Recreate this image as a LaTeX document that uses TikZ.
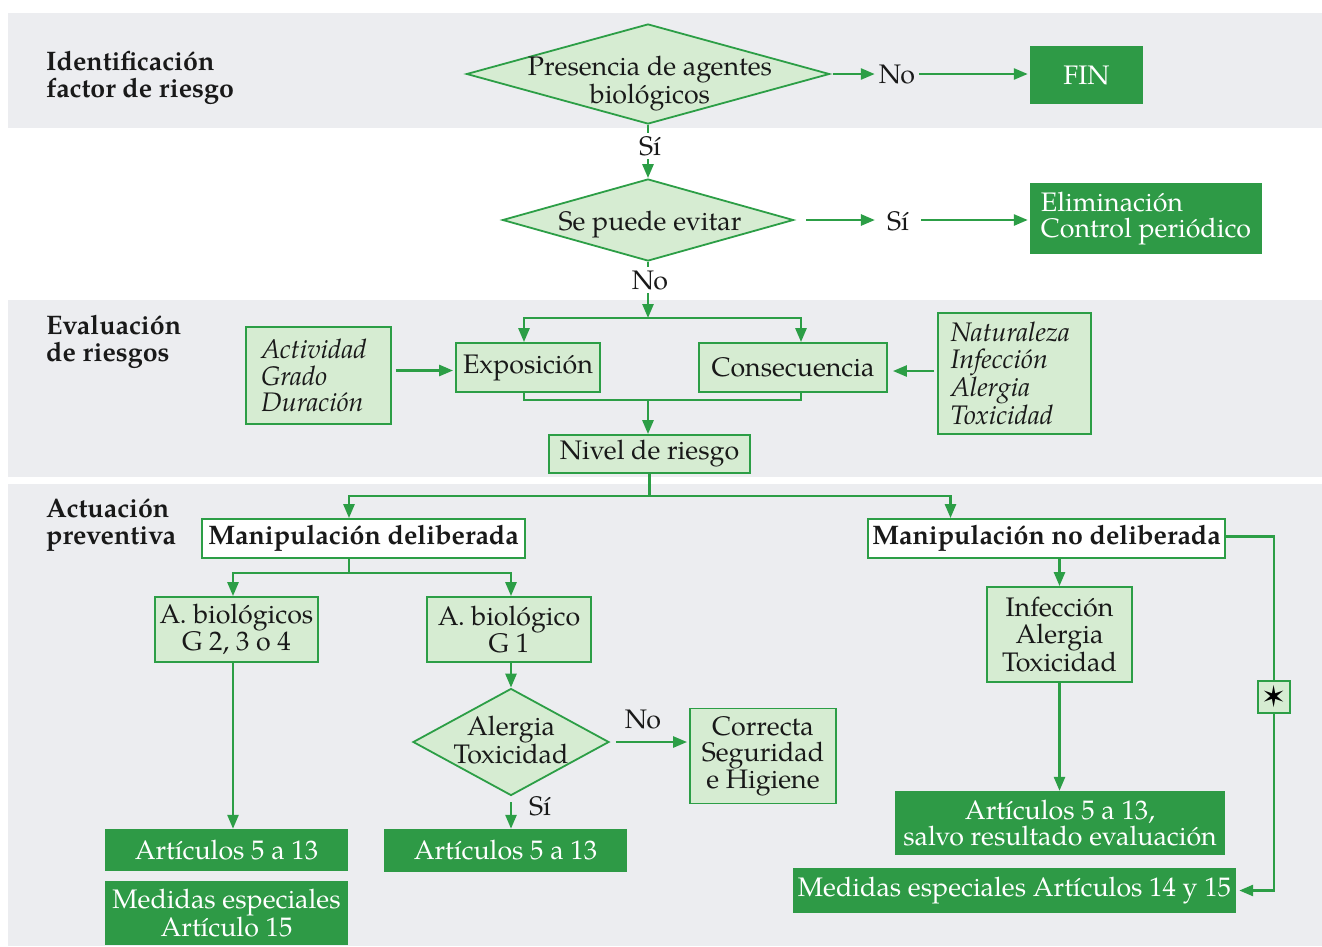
\documentclass[tikz,border=0pt]{standalone}
\usepackage{fontspec}
\setmainfont{texgyrepagella}[Extension=.otf,UprightFont=*-regular,BoldFont=*-bold,ItalicFont=*-italic,BoldItalicFont=*-bolditalic]
\newfontfamily\symfont{DejaVu Sans}
\usetikzlibrary{arrows.meta,shapes.geometric}
\definecolor{gline}{RGB}{44,158,70}
\definecolor{gdark}{RGB}{46,154,70}
\definecolor{glight}{RGB}{214,236,210}
\definecolor{band}{RGB}{236,237,240}
\definecolor{tblack}{RGB}{25,25,25}
\newcommand{\fsz}{\fontsize{26.8}{26.5}\selectfont}
\begin{document}
\begin{tikzpicture}[x=1pt,y=-1pt,
  every node/.style={font=\fsz, inner sep=0pt, text=tblack},
  lbox/.style={draw=gline, line width=1.8pt, fill=glight, align=center},
  dbox/.style={fill=gdark, text=white, align=center},
  wbox/.style={draw=gline, line width=1.8pt, fill=white, font=\fsz\bfseries},
  dia/.style={diamond, aspect=1, draw=gline, line width=1.8pt, fill=glight},
  txt/.style={align=center},
  conn/.style={draw=gline, line width=2.6pt},
  arr/.style={conn, -{Triangle[length=14pt,width=11pt]}},
  head/.style={font=\fsz\bfseries, align=left, anchor=west},
  lab/.style={inner sep=4pt}
]
\useasboundingbox (0,0) rectangle (1322,946);
\fill[white] (0,0) rectangle (1322,946);
\fill[band] (8,13) rectangle (1322,128);
\fill[band] (8,300) rectangle (1322,477);
\fill[band] (8,484) rectangle (1322,946);

% headers
\node[head] (h1) at (46,77.7) {Identificación\\factor de riesgo};
\node[head] (h2) at (46,342) {Evaluación\\de riesgos};
\node[head] (h3) at (46,525) {Actuación\\preventiva};

% diamonds
\node[dia, minimum width=363pt, minimum height=100pt] (d1) at (648,74) {};
\node[txt] (d1t) at (650,84) {Presencia de agentes\\biológicos};
\node[dia, minimum width=291pt, minimum height=82pt] (d2) at (648,220) {};
\node[anchor=base] (d2t) at (650,230) {Se puede evitar};
\node[dia, minimum width=196pt, minimum height=107pt] (d3) at (511,742) {};
\node[txt] (d3t) at (511,740) {Alergia\\Toxicidad};

% boxes
\node[dbox, minimum width=113pt, minimum height=58pt] (fin) at (1086.5,75) {FIN};
\node[dbox, minimum width=232pt, minimum height=71pt, align=left] (elim) at (1146,218.5) {Eliminación\\Control periódico};
\node[lbox, minimum width=145pt, minimum height=97pt, text width=115pt, align=left, font=\fsz\itshape] (act) at (318.5,375.5) {Actividad\\Grado\\Duración};
\node[lbox, minimum width=153pt, minimum height=121pt, text width=128pt, align=left, font=\fsz\itshape] (nat) at (1014.5,373.5) {Naturaleza\\Infección\\Alergia\\Toxicidad};
\node[lbox, minimum width=144pt, minimum height=49pt] (expo) at (528,367.5) {Exposición};
\node[lbox, minimum width=188pt, minimum height=49pt] (cons) at (793,367.5) {Consecuencia};
\node[lbox, minimum width=201pt, minimum height=38pt] (niv) at (649.5,454) {Nivel de riesgo};
\node[wbox, minimum width=323pt, minimum height=39pt] (md) at (363.5,538.5) {Manipulación deliberada};
\node[wbox, minimum width=357pt, minimum height=39pt] (mnd) at (1046.5,538.5) {Manipulación no deliberada};
\node[lbox, minimum width=163pt, minimum height=65pt] (ab1) at (236.5,629.5) {A. biológicos\\G 2, 3 o 4};
\node[lbox, minimum width=164pt, minimum height=65pt] (ab2) at (509,629.5) {A. biológico\\G 1};
\node[dbox, minimum width=243pt, minimum height=42pt] (art1) at (226.5,850) {Artículos 5 a 13};
\node[dbox, minimum width=243pt, minimum height=64pt] (med1) at (226.5,913) {Medidas especiales\\Artículo 15};
\node[dbox, minimum width=243pt, minimum height=43pt] (art2) at (505.5,850.5) {Artículos 5 a 13};
\node[lbox, minimum width=146pt, minimum height=95pt] (cor) at (763,756) {Correcta\\Seguridad\\e Higiene};
\node[lbox, minimum width=145pt, minimum height=95pt] (inf) at (1059.5,634.5) {Infección\\Alergia\\Toxicidad};
\node[dbox, minimum width=330pt, minimum height=64pt] (art3) at (1060,823) {Artículos 5 a 13,\\salvo resultado evaluación};
\node[dbox, minimum width=443pt, minimum height=45pt] (med2) at (1014.5,890.5) {Medidas especiales Artículos 14 y 15};

% labels on the right arrows
\node[lab] (no1) at (897,74) {No};
\node[lab, inner xsep=12pt] (si1) at (898,221) {Sí};

% connectors
\draw[arr, shorten <=3pt] (d1.east) -- (d1.east -| no1.west);
\draw[arr, shorten >=2pt] (d1.east -| no1.east) -- (d1.east -| fin.west);
\draw[arr, shorten <=12pt] (d2.east) -- (d2.east -| si1.west);
\draw[arr, shorten >=2pt] (d2.east -| si1.east) -- (d2.east -| elim.west);

\draw[arr] (d1.south) -- (d2.north);
\node[lab, fill=white, anchor=base, inner ysep=3pt] (si0) at (650,155) {Sí};

\coordinate (j1) at (648,318);
\draw[arr] (d2.south) -- (j1);
\node[lab, fill=white, anchor=base, inner ysep=3pt] (no0) at (650,289) {No};
\draw[arr] (j1) -| ([xshift=-4pt]expo.north);
\draw[arr] (j1) -| ([xshift=8pt]cons.north);

\coordinate (j2) at (648,400);
\draw[conn] ([xshift=-4pt]expo.south) |- (j2) -| ([xshift=8pt]cons.south);
\draw[arr] (j2) -- (j2 |- niv.north);

\draw[arr, shorten <=4pt, shorten >=2pt] ([yshift=5pt]act.east) -- ([yshift=5pt]act.east -| expo.west);
\draw[arr, shorten <=3pt, shorten >=5pt] ([yshift=2.5pt]nat.west) -- ([yshift=2.5pt]nat.west -| cons.east);

\coordinate (j3) at (649.5,496);
\draw[conn] (niv.south) -- (j3);
\draw[arr] (j3) -| ([xshift=-14.5pt]md.north);
\draw[arr] (j3) -| ([xshift=-96pt]mnd.north);

\coordinate (j4) at (349,573);
\draw[conn] ([xshift=-14.5pt]md.south) -- (j4);
\draw[arr] (j4) -| ([xshift=-3.5pt]ab1.north);
\draw[arr] (j4) -| ([xshift=2pt]ab2.north);

\draw[arr] ([xshift=-3.5pt]ab1.south) -- ([xshift=-3.5pt]ab1.south |- art1.north);
\draw[arr] (d3.north |- ab2.south) -- (d3.north);

\draw[arr, shorten <=6pt] (d3.south) -- (d3.south |- art2.north);
\node[anchor=base] (si2) at (540,815) {Sí};
\draw[arr, shorten <=6pt, shorten >=2pt] (d3.east) -- (d3.east -| cor.west);
\node[anchor=base] (no2) at (643,728) {No};

\draw[arr] (inf.north |- mnd.south) -- (inf.north);
\draw[arr] (inf.south) -- (inf.south |- art3.north);

\draw[conn] ([yshift=2pt]mnd.east) -| (1274,681) coordinate (sttop);
\draw[arr, shorten >=3pt] (1274,713) coordinate (stbot) |- (med2.east);
\node[lbox, minimum width=32pt, minimum height=32pt, font=\symfont\fontsize{30}{30}\selectfont, text=black] (star) at (1274,697) {✶};
\end{tikzpicture}
\end{document}
